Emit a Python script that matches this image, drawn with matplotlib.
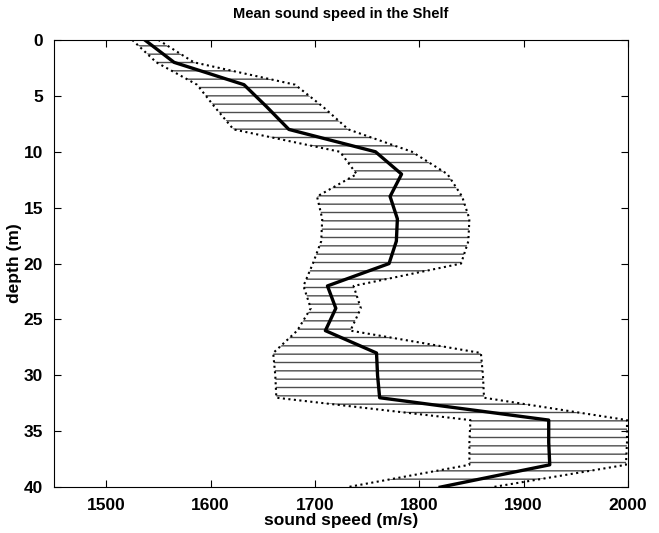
import numpy as np
import matplotlib
matplotlib.use('Agg')
import matplotlib.pyplot as plt

# depth grid (m) and sound speed profiles (m/s)
depth = [0, 2, 4, 6, 8, 10, 12, 14, 16, 18, 20, 22, 24, 26, 28, 30, 32, 34, 36, 38, 40]
mean_speed = [1537, 1565, 1632, 1654, 1675, 1758, 1783, 1772, 1779, 1778, 1771,
              1712, 1720, 1710, 1759, 1760, 1762, 1924, 1924, 1925, 1820]
lower_speed = [1525, 1548, 1587, 1604, 1622, 1724, 1740, 1702, 1707, 1706, 1698,
               1689, 1696, 1683, 1660, 1662, 1663, 1849, 1848, 1848, 1731]
upper_speed = [1550, 1584, 1681, 1708, 1732, 1793, 1827, 1841, 1848, 1847, 1840,
               1737, 1744, 1734, 1859, 1861, 1862, 1999, 1999, 1998, 1870]

x_ticks = [1500, 1600, 1700, 1800, 1900, 2000]
y_ticks = [0, 5, 10, 15, 20, 25, 30, 35, 40]

plt.rcParams['font.family'] = ['Liberation Sans', 'DejaVu Sans']
plt.rcParams['font.weight'] = 'bold'
plt.rcParams['hatch.linewidth'] = 1.0
plt.rcParams['hatch.color'] = '0.3'

fig = plt.figure(figsize=(6.59, 5.33), dpi=100)
ax = fig.add_axes([0.082, 0.086, 0.871, 0.839])

# shaded spread with horizontal hatching
ax.fill_betweenx(depth, lower_speed, upper_speed, facecolor='none', edgecolor='0.3',
                 hatch='--', linewidth=0)
ax.plot(lower_speed, depth, color='black', linestyle=':', linewidth=1.5)
ax.plot(upper_speed, depth, color='black', linestyle=':', linewidth=1.5)
ax.plot(mean_speed, depth, color='black', linewidth=2.4)

ax.set_xlim(1450, 2000)
ax.set_ylim(40, 0)
ax.set_xticks(x_ticks)
ax.set_yticks(y_ticks)
ax.tick_params(direction='in', top=True, right=True, length=5, labelsize=12.5, pad=8)
for lab in ax.get_xticklabels() + ax.get_yticklabels():
    lab.set_fontweight('bold')

ax.set_xlabel('sound speed (m/s)', fontsize=12.5, fontweight='bold', labelpad=0)
ax.set_ylabel('depth (m)', fontsize=12.5, fontweight='bold', labelpad=1)
ax.set_title('Mean sound speed in the Shelf', fontsize=10.5, fontweight='bold', pad=16)

fig.savefig('out.png', dpi=100)
